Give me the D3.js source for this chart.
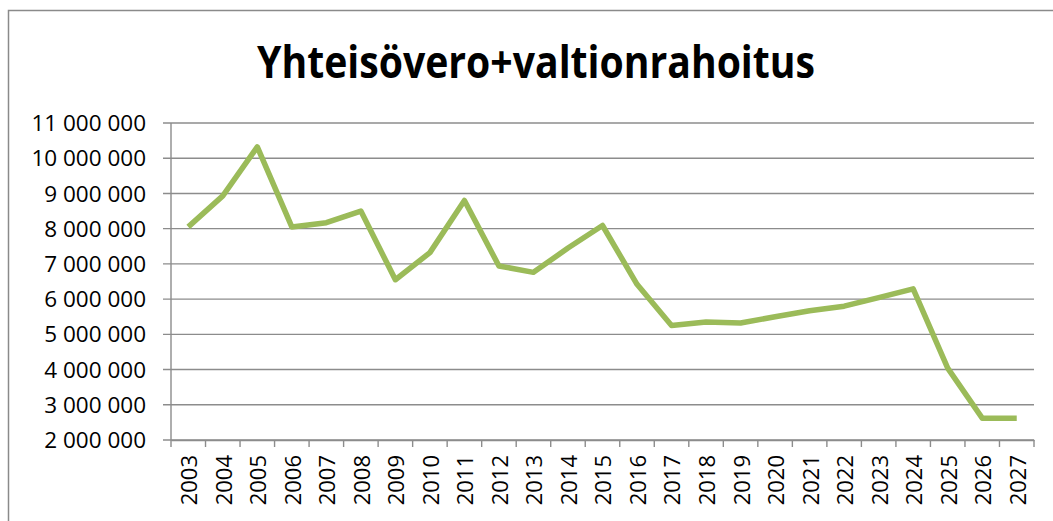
<!DOCTYPE html>
<html>
<head>
<meta charset="utf-8">
<script src="https://cdn.jsdelivr.net/npm/d3@7"></script>
<style>
html,body{margin:0;padding:0;background:#fff;}
svg{display:block;}
</style>
</head>
<body>
<svg id="chart" width="1053" height="521"></svg>
<script>
const title = "Yhteisövero+valtionrahoitus";
const years = ["2003","2004","2005","2006","2007","2008","2009","2010","2011","2012","2013","2014","2015","2016","2017","2018","2019","2020","2021","2022","2023","2024","2025","2026","2027"];
const values = [8050000,8930000,10320000,8050000,8170000,8500000,6550000,7320000,8800000,6940000,6760000,7450000,8090000,6420000,5250000,5350000,5320000,5500000,5670000,5800000,6040000,6290000,4040000,2620000,2620000];
const yTicks = [2000000,3000000,4000000,5000000,6000000,7000000,8000000,9000000,10000000,11000000];

(function(){
const svg = d3.select("#chart");
const pLeft = 171, pRight = 1034, pTop = 123, pBottom = 440;

// chart border
svg.append("rect").attr("x",8.5).attr("y",10.5).attr("width",1100).attr("height",600)
  .attr("fill","none").attr("stroke","#8a8a8a").attr("stroke-width",1.5);

const x = d3.scaleBand().domain(years).range([pLeft, pRight]).paddingInner(0).paddingOuter(0);
const y = d3.scaleLinear().domain([2000000, 11000000]).range([pBottom, pTop]);

const fmt = v => d3.format(",")(v).replace(/,/g, " ");

// gridlines
svg.append("g").selectAll("line").data(yTicks).join("line")
  .attr("x1", pLeft - 8).attr("x2", pRight)
  .attr("y1", d => y(d)).attr("y2", d => y(d))
  .attr("stroke", "#8c8c8c").attr("stroke-width", 1.4);

// y labels
svg.append("g").selectAll("text").data(yTicks).join("text")
  .attr("x", 146).attr("y", d => y(d)).attr("dy", "0.36em")
  .attr("text-anchor", "end")
  .style("font-family", "'Open Sans', sans-serif").style("font-size", "22.5px").attr("fill", "#000")
  .text(fmt);

// y axis line
svg.append("line").attr("x1", pLeft).attr("x2", pLeft).attr("y1", pTop).attr("y2", pBottom)
  .attr("stroke", "#8c8c8c").attr("stroke-width", 1.4);

// x axis
const xAxis = d3.axisBottom(x).tickSize(0).tickFormat("");
const gx = svg.append("g").attr("transform", `translate(0,${pBottom})`).call(xAxis);
gx.select(".domain").attr("stroke", "#8c8c8c").attr("stroke-width", 1.4);
const bounds = years.map(d => x(d)).concat([pRight]);
svg.append("g").selectAll("line").data(bounds).join("line")
  .attr("x1", d => d).attr("x2", d => d).attr("y1", pBottom).attr("y2", pBottom + 7)
  .attr("stroke", "#8c8c8c").attr("stroke-width", 1.4);

svg.append("g").selectAll("text").data(years).join("text")
  .attr("transform", d => `translate(${x(d) + x.bandwidth()/2 + 1},${pBottom + 15}) rotate(-90)`)
  .attr("text-anchor", "end").attr("dy", "0.36em")
  .style("font-family", "'Open Sans', sans-serif").style("font-size", "22px").attr("fill", "#000")
  .text(d => d);

// line
const line = d3.line().x((d, i) => x(years[i]) + x.bandwidth()/2).y(d => y(d));
svg.append("path").datum(values).attr("d", line)
  .attr("fill", "none").attr("stroke", "#9bbb59").attr("stroke-width", 5.5)
  .attr("stroke-linejoin", "round").attr("stroke-linecap", "butt");

// title
svg.append("text").attr("x", 536).attr("y", 78).attr("text-anchor", "middle")
  .style("font-family", "'Open Sans', sans-serif").style("font-weight", "bold").style("font-size", "44px")
  .attr("textLength", 558).attr("lengthAdjust", "spacingAndGlyphs")
  .attr("fill", "#000").text(title);
})();
</script>
</body>
</html>
